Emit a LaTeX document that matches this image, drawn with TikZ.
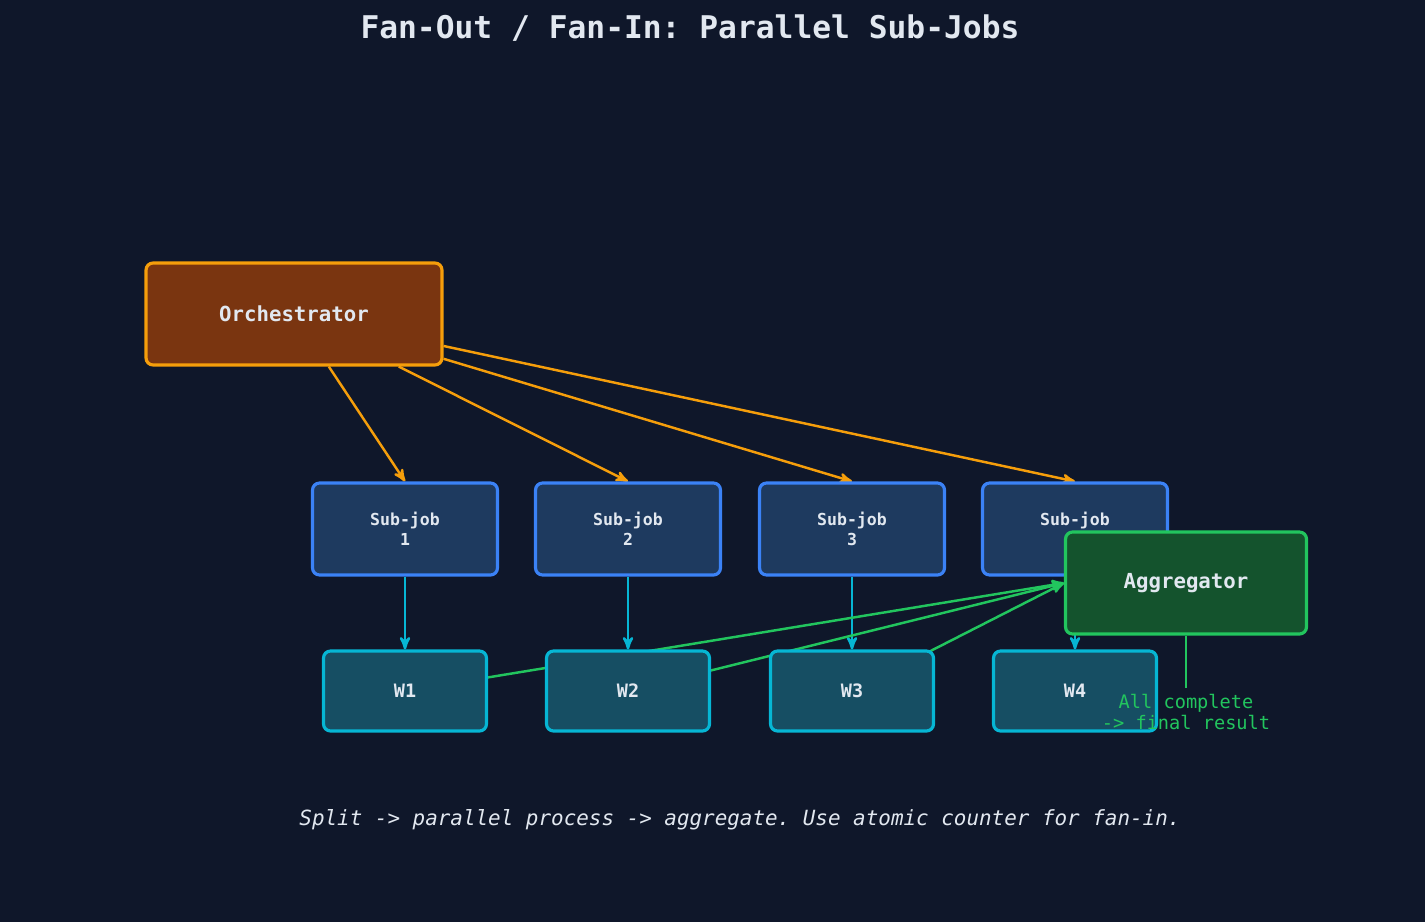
\documentclass[tikz,border=0pt]{standalone}
\usepackage{fontspec}
\setmonofont{DejaVu Sans Mono}
\usetikzlibrary{arrows}
\pgfdeclarelayer{bg}
\pgfsetlayers{bg,main}
\definecolor{bgc}{HTML}{0F172A}
\definecolor{txt}{HTML}{E2E8F0}
\definecolor{orchf}{HTML}{7A3510}
\definecolor{orchd}{HTML}{F59E0B}
\definecolor{subf}{HTML}{1E3A5F}
\definecolor{subd}{HTML}{3B82F6}
\definecolor{wf}{HTML}{164E63}
\definecolor{wd}{HTML}{06B6D4}
\definecolor{aggf}{HTML}{14532D}
\definecolor{aggd}{HTML}{22C55E}
\tikzset{box/.style={rectangle, rounded corners=4pt, line width=1.8pt, text=txt, font=\ttfamily\bfseries, align=center, inner sep=0pt}}
\tikzset{orch/.style={box, fill=orchf, draw=orchd, minimum width=5.92cm, minimum height=2.04cm, font=\ttfamily\bfseries\fontsize{11.8}{13}\selectfont}}
\tikzset{sub/.style={box, fill=subf, draw=subd, minimum width=3.7cm, minimum height=1.84cm, font=\ttfamily\bfseries\fontsize{9.4}{11.5}\selectfont}}
\tikzset{wrk/.style={box, fill=wf, draw=wd, minimum width=3.26cm, minimum height=1.6cm, font=\ttfamily\bfseries\fontsize{10.5}{12}\selectfont}}
\tikzset{agg/.style={box, fill=aggf, draw=aggd, minimum width=4.82cm, minimum height=2.04cm, font=\ttfamily\bfseries\fontsize{11.8}{13}\selectfont}}
\tikzset{fan/.style={->, >=stealth', line width=1.4pt}}
\begin{document}
\begin{tikzpicture}[x=0.02cm,y=-0.02cm]
\useasboundingbox (0,0) rectangle (1425,922);
\node[text=txt, font=\ttfamily\bfseries\fontsize{17.8}{20}\selectfont] (title) at (690,28) {Fan-Out / Fan-In: Parallel Sub-Jobs};
\node[orch] (orch) at (294,314) {Orchestrator};
\foreach \i/\x in {1/405,2/628,3/852,4/1075}{
  \node[sub] (sj\i) at (\x,529) {Sub-job\\\i};
  \node[wrk] (w\i) at (\x,691) {W\i};
}
\node[agg] (agg) at (1186,583) {Aggregator};
\node[text=aggd, font=\ttfamily\fontsize{10.6}{12.5}\selectfont, align=center] (done) at (1186,712) {All complete\\-> final result};
\node[text=txt, font=\ttfamily\itshape\fontsize{11.9}{13}\selectfont] (note) at (740,820) {Split -> parallel process -> aggregate. Use atomic counter for fan-in.};
\begin{pgfonlayer}{bg}
  \fill[bgc] (0,0) rectangle (1425,922);
  \foreach \i in {1,...,4}{
    \draw[fan, orchd] (orch) -- (sj\i.north);
    \draw[fan, wd] (sj\i) -- (w\i);
  }
  \foreach \i in {1,2,3}
    \draw[fan, aggd] (w\i.center) -- (agg.west);
  \draw[line width=1.4pt, aggd] (agg) -- (done);
\end{pgfonlayer}
\end{tikzpicture}
\end{document}
